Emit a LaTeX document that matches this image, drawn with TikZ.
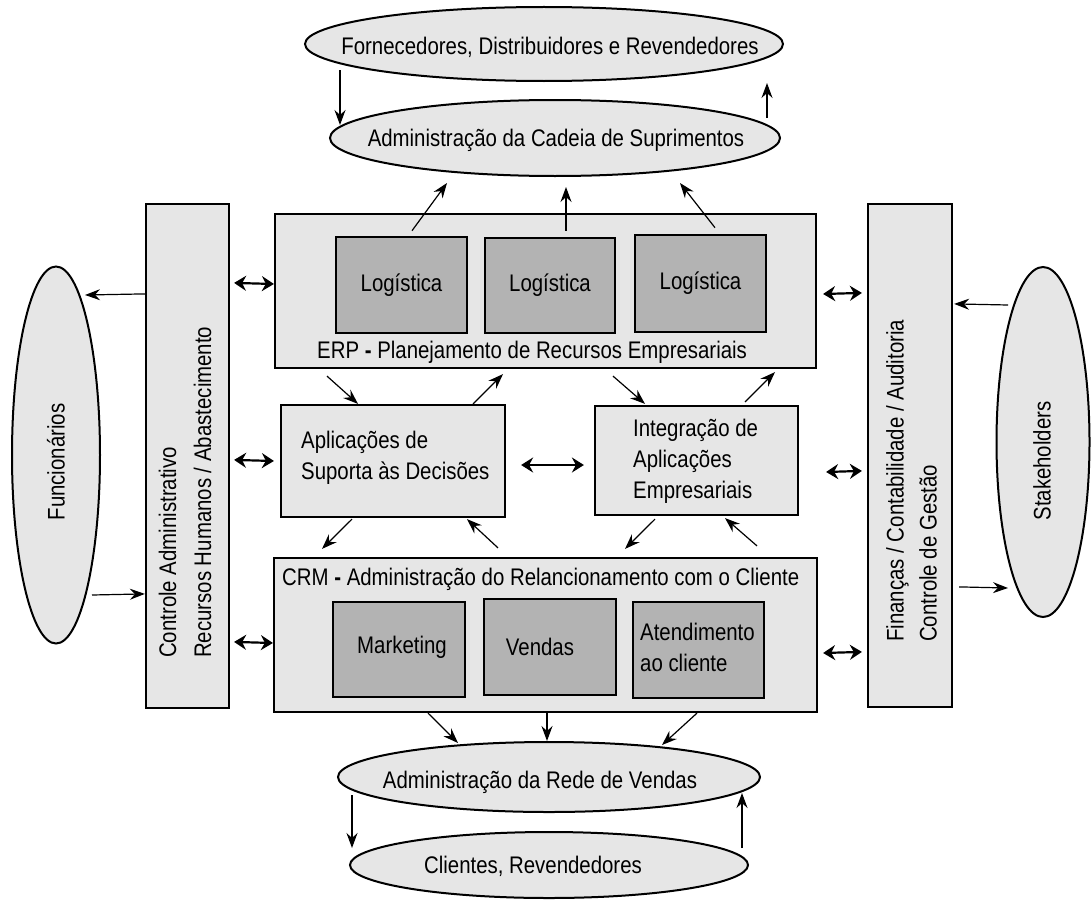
\documentclass[tikz,border=0pt]{standalone}
\usepackage{fontspec}
\setmainfont{Liberation Sans}[FakeStretch=0.85]
\usetikzlibrary{shapes.geometric,arrows.meta,calc}
\definecolor{panelgray}{HTML}{E6E6E6}
\definecolor{modulegray}{HTML}{B3B3B3}

\begin{document}
\begin{tikzpicture}[x=1pt,y=-1pt,
  font=\fontsize{24}{31}\selectfont,
  ring/.style={ellipse, draw, fill=panelgray, line width=2pt, inner sep=0pt},
  panel/.style={rectangle, draw, fill=panelgray, line width=2.2pt, inner sep=0pt},
  module/.style={rectangle, draw, fill=modulegray, line width=2.6pt, inner sep=0pt},
  caption/.style={inner sep=0pt, align=left},
  flow/.style={-{Stealth[length=15pt,width=11pt,inset=5pt]}, line width=1.2pt},
  duplex/.style={{Stealth[length=12pt,width=15pt,inset=4pt]}-{Stealth[length=12pt,width=15pt,inset=4pt]}, line width=2.2pt}]

\useasboundingbox (0,0) rectangle (1091,899);

% --- supply chain ellipses (top)
\node[ring, minimum width=478pt, minimum height=74pt] (sup) at (544,44) {};
\node[caption] (supT) at (550,47) {Fornecedores, Distribuidores e Revendedores};
\node[ring, minimum width=450pt, minimum height=76pt] (scm) at (555,138) {};
\node[caption] (scmT) at (556,140) {Administração da Cadeia de Suprimentos};

% --- sales network ellipses (bottom)
\node[ring, minimum width=422pt, minimum height=70pt] (net) at (549,777) {};
\node[caption] (netT) at (540,782) {Administração da Rede de Vendas};
\node[ring, minimum width=398pt, minimum height=66pt] (cli) at (549,865) {};
\node[caption] (cliT) at (533,866) {Clientes, Revendedores};

% --- side ellipses
\node[ring, minimum width=88pt, minimum height=377pt] (fun) at (56,455) {};
\node[caption, rotate=90] (funT) at (56,462) {Funcionários};
\node[ring, minimum width=93pt, minimum height=350pt] (stk) at (1043,442) {};
\node[caption, rotate=90] (stkT) at (1042,461) {Stakeholders};

% --- side columns
\node[panel, minimum width=83pt, minimum height=504pt] (hr) at (187.5,456) {};
\node[caption, rotate=90, anchor=west, font=\fontsize{24}{35}\selectfont] (hrT) at (185,658)
  {Controle Administrativo\\Recursos Humanos / Abastecimento};
\node[panel, minimum width=84pt, minimum height=503pt] (fin) at (910,455.5) {};
\node[caption, rotate=90, anchor=west, font=\fontsize{24}{33}\selectfont] (finT) at (911.5,642)
  {Finanças / Contabilidade / Auditoria\\Controle de Gestão};

% --- ERP block
\node[panel, minimum width=541pt, minimum height=154pt] (erp) at (545.5,291) {};
\node[module, minimum width=131pt, minimum height=96pt] (l1) at (401.5,285) {Logística};
\node[module, minimum width=130pt, minimum height=95pt] (l2) at (550,285.5) {Logística};
\node[module, minimum width=131pt, minimum height=97pt] (l3) at (700.5,283.5) {Logística};
\node[caption, anchor=west] (erpT) at (317,352) {ERP \textbf{-} Planejamento de Recursos Empresariais};

% --- middle applications
\node[panel, minimum width=224pt, minimum height=112pt] (dss) at (393,461) {};
\node[caption, anchor=west] (dssT) at (301,457.5) {Aplicações de\\Suporta às Decisões};
\node[panel, minimum width=203pt, minimum height=109pt] (eai) at (696.5,460.5) {};
\node[caption, anchor=west] (eaiT) at (633,461.5) {Integração de\\Aplicações\\Empresariais};

% --- CRM block
\node[panel, minimum width=543pt, minimum height=154pt] (crm) at (545.5,635) {};
\node[caption, anchor=west] (crmT) at (282,579) {CRM \textbf{-} Administração do Relancionamento com o Cliente};
\node[module, minimum width=132pt, minimum height=95pt] (mkt) at (399,649.5) {};
\node[caption] (mktT) at (402,647) {Marketing};
\node[module, minimum width=132pt, minimum height=96pt] (ven) at (550,647) {};
\node[caption] (venT) at (540,647) {Vendas};
\node[module, minimum width=131pt, minimum height=96pt] (cs) at (698.5,650) {};
\node[caption, anchor=west] (csT) at (640,647.5) {Atendimento\\ao cliente};

% --- supply chain flows
\draw[flow] ($(sup)+(-204,26)$) -- ($(scm)+(-215,-13)$);
\draw[flow] ($(scm)+(212,-20)$) -- ($(sup)+(223,39)$);
\draw[flow] ($(l1.north)+(10.5,-5)$) -- ($(scm)+(-108,45)$);
\draw[flow] ($(l2.north)+(16,-6)$) -- ($(scm)+(11,49)$);
\draw[flow] ($(l3.north)+(14.5,-6)$) -- ($(scm)+(125,45)$);

% --- ERP <-> applications
\draw[flow] ($(erp.south)+(-218.5,7)$) -- ($(dss.north)+(-35,0)$);
\draw[flow] ($(dss.north)+(80,0)$) -- ($(erp.south)+(-42.5,5)$);
\draw[flow] ($(erp.south)+(67.5,7)$) -- ($(eai.north)+(-51.5,-1)$);
\draw[flow] ($(eai.north)+(48.5,-3)$) -- ($(erp.south)+(229.5,3)$);
\draw[duplex] ($(dss.east)+(15,4)$) -- ($(eai.west)+(-10,4.5)$);

% --- applications <-> CRM
\draw[flow] ($(dss.south)+(-41,1)$) -- ($(crm.north)+(-223.5,-8)$);
\draw[flow] ($(crm.north)+(-47.5,-9)$) -- ($(dss.south)+(74,1)$);
\draw[flow] ($(eai.south)+(-41.5,3)$) -- ($(crm.north)+(79.5,-8)$);
\draw[flow] ($(crm.north)+(211.5,-11)$) -- ($(eai.south)+(28.5,2)$);

% --- CRM -> sales network
\draw[flow] ($(crm.south)+(-117.5,0)$) -- ($(net)+(-91,-34)$);
\draw[flow] ($(crm.south)+(1.5,0)$) -- ($(net)+(-2,-36)$);
\draw[flow] ($(crm.south)+(151.5,0)$) -- ($(net)+(113,-32)$);
\draw[flow] ($(net)+(-197,18)$) -- ($(cli)+(-197,-17)$);
\draw[flow] ($(cli)+(193,-17)$) -- ($(net)+(193,16)$);

% --- left column links
\draw[flow] ($(hr.north west)+(0,91)$) -- ($(fun)+(29,-160)$);
\draw[flow] ($(fun)+(36,140)$) -- ($(hr.north west)+(0,391)$);
\draw[duplex] ($(hr.north east)+(4,80)$) -- ($(erp.west)+(0,-7)$);
\draw[duplex] ($(hr.north east)+(4,257)$) -- ($(dss.west)+(-6,0)$);
\draw[duplex] ($(hr.north east)+(4,439)$) -- ($(crm.west)+(0,8)$);

% --- right column links
\draw[duplex] ($(erp.east)+(6,3)$) -- ($(fin.north west)+(-5,90)$);
\draw[duplex] ($(eai.east)+(27,11.5)$) -- ($(fin.north west)+(-5,268)$);
\draw[duplex] ($(crm.east)+(5,18)$) -- ($(fin.north west)+(-5,449)$);
\draw[flow] ($(stk)+(-35,-137)$) -- ($(fin.north east)+(1,101)$);
\draw[flow] ($(fin.north east)+(6,384)$) -- ($(stk)+(-35,146)$);
\end{tikzpicture}
\end{document}
